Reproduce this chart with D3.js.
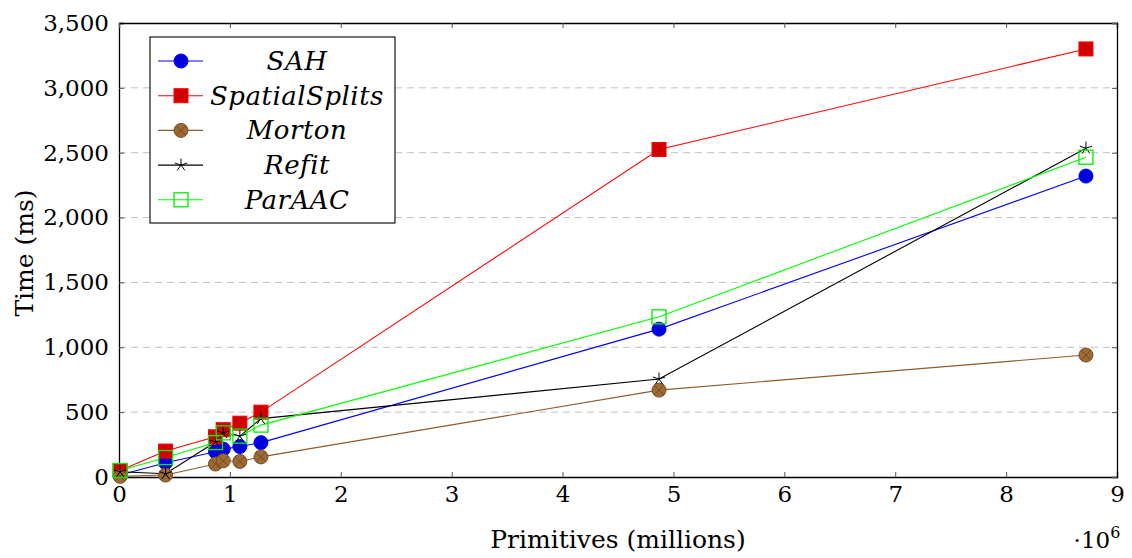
<!DOCTYPE html>
<html>
<head>
<meta charset="utf-8">
<script src="https://cdn.jsdelivr.net/npm/d3@7"></script>
<style>
  body { margin: 0; background: #fff; }
  text { font-family: "DejaVu Serif", serif; fill: #000; }
</style>
</head>
<body>
<script>
// primitives in millions
var primitives = [0.01, 0.42, 0.87, 0.94, 1.09, 1.28, 4.87, 8.72];

var sah = [15, 110, 195, 215, 235, 265, 1140, 2320];
var spatialSplits = [50, 200, 310, 365, 415, 500, 2525, 3300];
var morton = [5, 15, 100, 125, 120, 155, 670, 940];
var refit = [40, 25, 270, 340, 315, 450, 755, 2535];
var parAAC = [50, 150, 265, 340, 315, 400, 1235, 2465];

var seriesNames = ["SAH", "SpatialSplits", "Morton", "Refit", "ParAAC"];
var xTicks = [0, 1, 2, 3, 4, 5, 6, 7, 8, 9];
var yTicks = [0, 500, 1000, 1500, 2000, 2500, 3000, 3500];

var series = [
  {name: seriesNames[0], values: sah, color: "#0000ff", mark: "circle"},
  {name: seriesNames[1], values: spatialSplits, color: "#ff0000", mark: "square"},
  {name: seriesNames[2], values: morton, color: "#8c5a2b", mark: "ocircle"},
  {name: seriesNames[3], values: refit, color: "#000000", mark: "star"},
  {name: seriesNames[4], values: parAAC, color: "#00ff00", mark: "osquare"}
];

var W = 1132, H = 558;
var margin = {top: 23, right: 15, bottom: 81, left: 119};
var width = W - margin.left - margin.right,
    height = H - margin.top - margin.bottom;

var x = d3.scaleLinear().domain([0, 9]).range([0, width]);
var y = d3.scaleLinear().domain([0, 3500]).range([height, 0]);

var svg = d3.select("body").append("svg")
    .attr("width", W)
    .attr("height", H);

var g = svg.append("g")
    .attr("transform", "translate(" + margin.left + "," + margin.top + ")");

// grid lines
g.selectAll(".grid")
  .data(yTicks.slice(1, -1))
  .enter().append("line")
    .attr("x1", 0).attr("x2", width)
    .attr("y1", function(d) { return y(d); })
    .attr("y2", function(d) { return y(d); })
    .attr("stroke", "#c0c0c0")
    .attr("stroke-width", 1)
    .attr("stroke-dasharray", "7,5");

// axes (ticks point inward, pgfplots style)
var fmt = d3.format(",");
var xAxis = g.append("g")
    .attr("transform", "translate(0," + height + ")")
    .call(d3.axisBottom(x).tickValues(xTicks).tickSize(-5).tickPadding(8).tickFormat(d3.format("d")));
var yAxis = g.append("g")
    .call(d3.axisLeft(y).tickValues(yTicks).tickSize(-5).tickPadding(10).tickFormat(fmt));
g.append("g")
    .call(d3.axisTop(x).tickValues(xTicks).tickSize(-5).tickFormat(""));
g.append("g")
    .attr("transform", "translate(" + width + ",0)")
    .call(d3.axisRight(y).tickValues(yTicks).tickSize(-5).tickFormat(""));

g.selectAll(".domain").attr("stroke", "#000").attr("stroke-width", 1.3);
g.selectAll(".tick line").attr("stroke", "#555");
g.selectAll(".tick text")
    .style("font-size", "23px")
    .style("font-family", "'DejaVu Serif', serif");
xAxis.selectAll("text").attr("dy", "0.75em");

// axis labels
svg.append("text")
    .attr("x", margin.left + width / 2)
    .attr("y", 548)
    .attr("text-anchor", "middle")
    .style("font-size", "25px")
    .text("Primitives (millions)");

var tenSix = svg.append("text")
    .attr("x", 1097)
    .attr("y", 548)
    .attr("text-anchor", "middle")
    .style("font-size", "23px");
tenSix.append("tspan").text("\u00b710");
tenSix.append("tspan").attr("dy", -10).style("font-size", "16px").text("6");

svg.append("text")
    .attr("transform", "translate(33," + (margin.top + height / 2 + 3) + ") rotate(-90)")
    .attr("text-anchor", "middle")
    .style("font-size", "25px")
    .text("Time (ms)");

// marker drawing
function drawMark(sel, s) {
  if (s.mark === "circle") {
    sel.append("circle").attr("r", 7).attr("fill", "#0000dd").attr("stroke", "#0000ff");
  } else if (s.mark === "square") {
    sel.append("rect").attr("x", -7).attr("y", -7).attr("width", 14).attr("height", 14)
      .attr("fill", "#d00000").attr("stroke", "#ff0000");
  } else if (s.mark === "ocircle") {
    sel.append("circle").attr("r", 7).attr("fill", "#9c6a34").attr("stroke", "#7a4e22");
    sel.append("path").attr("d", "M-4.6,-4.6L4.6,4.6M-4.6,4.6L4.6,-4.6")
      .attr("stroke", "#6b4218").attr("stroke-width", 0.8);
  } else if (s.mark === "star") {
    var p = "";
    for (var k = 0; k < 5; k++) {
      var a = -Math.PI / 2 + k * 2 * Math.PI / 5;
      p += "M0,0L" + (6.5 * Math.cos(a)).toFixed(2) + "," + (6.5 * Math.sin(a)).toFixed(2);
    }
    sel.append("path").attr("d", p).attr("stroke", "#000").attr("stroke-width", 1).attr("fill", "none");
  } else if (s.mark === "osquare") {
    sel.append("rect").attr("x", -7).attr("y", -7).attr("width", 14).attr("height", 14)
      .attr("fill", "none").attr("stroke", "#00ee00").attr("stroke-width", 1.3);
  }
}

var line = d3.line()
    .x(function(d, i) { return x(primitives[i]); })
    .y(function(d) { return y(d); });

series.forEach(function(s) {
  g.append("path")
    .datum(s.values)
    .attr("d", line)
    .attr("fill", "none")
    .attr("stroke", s.color)
    .attr("stroke-width", 1.1);
});

series.forEach(function(s) {
  s.values.forEach(function(v, i) {
    var m = g.append("g").attr("transform", "translate(" + x(primitives[i]) + "," + y(v) + ")");
    drawMark(m, s);
  });
});

// legend
var legend = svg.append("g").attr("transform", "translate(150,37)");
legend.append("rect")
    .attr("width", 245).attr("height", 186)
    .attr("fill", "#fff").attr("stroke", "#000").attr("stroke-width", 1.1);

series.forEach(function(s, i) {
  var row = legend.append("g").attr("transform", "translate(0," + (24 + i * 34.7) + ")");
  row.append("line").attr("x1", 8).attr("x2", 53).attr("y1", 0).attr("y2", 0)
    .attr("stroke", s.color).attr("stroke-width", 1.1);
  var m = row.append("g").attr("transform", "translate(31,0)");
  drawMark(m, s);
  row.append("text")
    .attr("x", 147).attr("y", 9)
    .attr("text-anchor", "middle")
    .style("font-size", "26px")
    .style("font-style", "italic")
    .style("letter-spacing", "0.5px")
    .text(s.name);
});
</script>
</body>
</html>
